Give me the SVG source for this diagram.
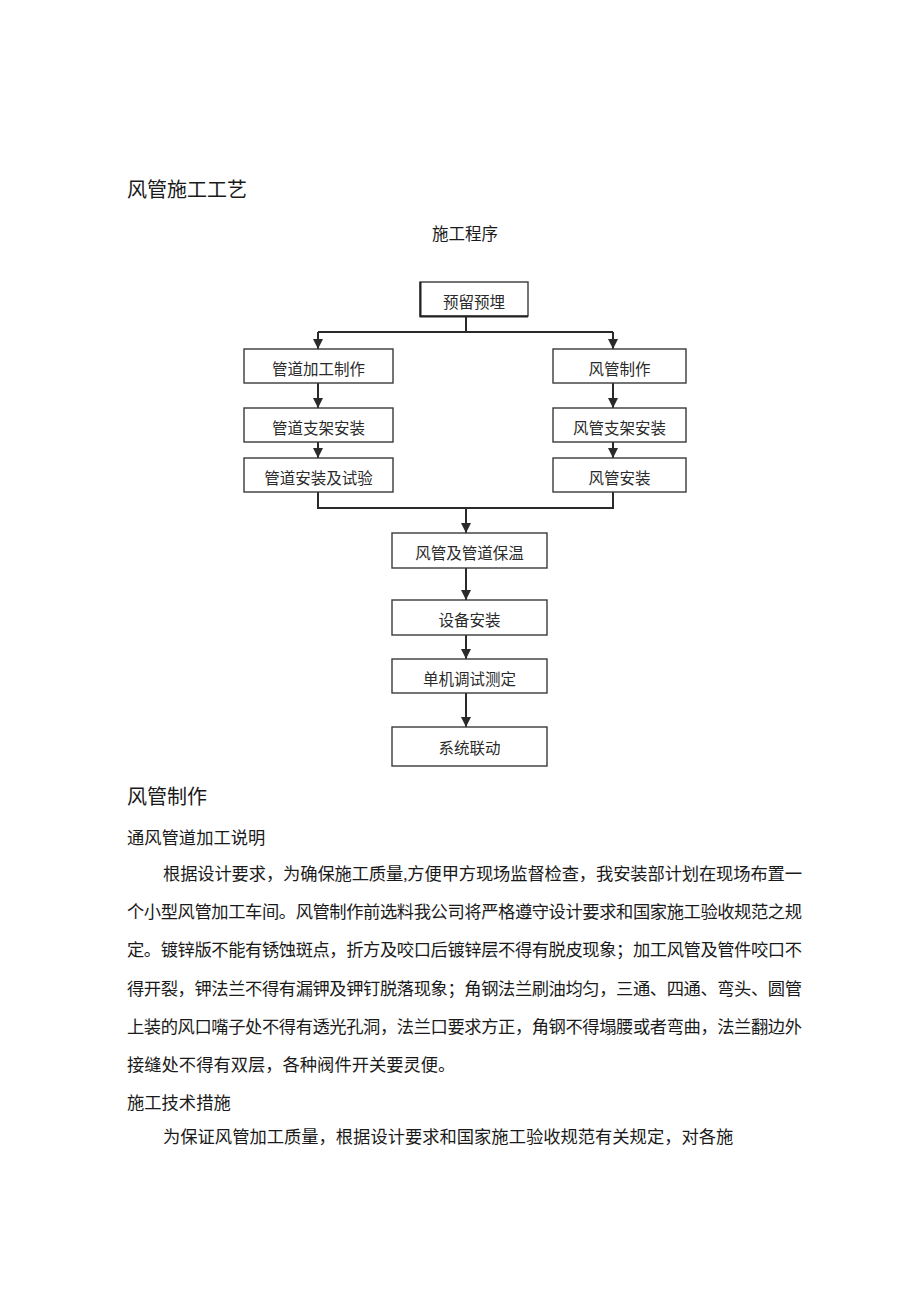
<svg xmlns="http://www.w3.org/2000/svg" width="920" height="1301" viewBox="0 0 920 1301">
<defs>
<style>
.t{font-family:"Liberation Serif","Noto Sans CJK SC",serif;fill:#1a1a1a}
.h{font-size:20px}
.b{font-size:17.3px}
.box rect{fill:#fff;stroke:#3a3a3a;stroke-width:1.4}
.box text{font-family:"Liberation Serif","Noto Sans CJK SC",serif;font-size:15.5px;fill:#2a2a2a;text-anchor:middle}
.c{fill:none;stroke:#2a2a2a;stroke-width:2}
</style>
<marker id="ah" viewBox="0 0 10 10" refX="10" refY="5" markerWidth="5" markerHeight="5" orient="auto" markerUnits="strokeWidth">
<path d="M0,0 L10,5 L0,10 z" fill="#2a2a2a"/>
</marker>
</defs>
<rect width="920" height="1301" fill="#fff"/>
<text class="t h" x="127" y="197">风管施工工艺</text>
<text class="t" x="432" y="240" font-size="16.5">施工程序</text>

<g id="connectors">
<path class="c" d="M466,316 V332 M318,332 H613"/>
<path class="c" d="M318,332 V349" marker-end="url(#ah)"/>
<path class="c" d="M613,332 V349" marker-end="url(#ah)"/>
<path class="c" d="M318,383 V408" marker-end="url(#ah)"/>
<path class="c" d="M613,383 V408" marker-end="url(#ah)"/>
<path class="c" d="M318,442 V458" marker-end="url(#ah)"/>
<path class="c" d="M613,442 V458" marker-end="url(#ah)"/>
<path class="c" d="M318,492 V508 H613 V492"/>
<path class="c" d="M466,508 V533" marker-end="url(#ah)"/>
<path class="c" d="M466,568 V600" marker-end="url(#ah)"/>
<path class="c" d="M466,635 V659" marker-end="url(#ah)"/>
<path class="c" d="M466,693 V727" marker-end="url(#ah)"/>
</g>

<g id="n1" class="box"><rect x="420" y="282" width="108" height="34"/><path d="M420.5,282 V316.5 H528" stroke="#222" stroke-width="2" fill="none"/><text x="474" y="308">预留预埋</text></g>
<g id="n2" class="box"><rect x="244" y="349" width="149" height="34"/><text x="318.5" y="375">管道加工制作</text></g>
<g id="n3" class="box"><rect x="553" y="349" width="133" height="34"/><text x="619.5" y="375">风管制作</text></g>
<g id="n4" class="box"><rect x="244" y="408" width="149" height="34"/><text x="318.5" y="434">管道支架安装</text></g>
<g id="n5" class="box"><rect x="553" y="408" width="133" height="34"/><text x="619.5" y="434">风管支架安装</text></g>
<g id="n6" class="box"><rect x="244" y="458" width="149" height="34"/><text x="318.5" y="484">管道安装及试验</text></g>
<g id="n7" class="box"><rect x="553" y="458" width="133" height="34"/><text x="619.5" y="484">风管安装</text></g>
<g id="n8" class="box"><rect x="392" y="533" width="155" height="35"/><text x="469.5" y="559">风管及管道保温</text></g>
<g id="n9" class="box"><rect x="392" y="600" width="155" height="35"/><text x="469.5" y="626">设备安装</text></g>
<g id="n10" class="box"><rect x="392" y="659" width="155" height="34"/><text x="469.5" y="685">单机调试测定</text></g>
<g id="n11" class="box"><rect x="392" y="727" width="155" height="39"/><text x="469.5" y="754">系统联动</text></g>

<text class="t h" x="127" y="804">风管制作</text>
<text class="t b" x="127" y="844">通风管道加工说明</text>
<text class="t b" x="163" y="880" textLength="639" lengthAdjust="spacing">根据设计要求，为确保施工质量,方便甲方现场监督检查，我安装部计划在现场布置一</text>
<text class="t b" x="127" y="918" textLength="675" lengthAdjust="spacing">个小型风管加工车间。风管制作前选料我公司将严格遵守设计要求和国家施工验收规范之规</text>
<text class="t b" x="127" y="956" textLength="675" lengthAdjust="spacing">定。镀锌版不能有锈蚀斑点，折方及咬口后镀锌层不得有脱皮现象；加工风管及管件咬口不</text>
<text class="t b" x="127" y="995" textLength="675" lengthAdjust="spacing">得开裂，钾法兰不得有漏钾及钾钉脱落现象；角钢法兰刷油均匀，三通、四通、弯头、圆管</text>
<text class="t b" x="127" y="1033" textLength="675" lengthAdjust="spacing">上装的风口嘴子处不得有透光孔洞，法兰口要求方正，角钢不得塌腰或者弯曲，法兰翻边外</text>
<text class="t b" x="127" y="1071">接缝处不得有双层，各种阀件开关要灵便。</text>
<text class="t b" x="127" y="1109">施工技术措施</text>
<text class="t b" x="163" y="1143">为保证风管加工质量，根据设计要求和国家施工验收规范有关规定，对各施</text>
</svg>
